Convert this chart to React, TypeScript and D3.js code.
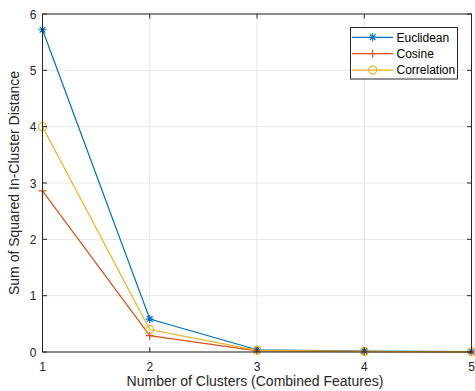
import React, { useEffect, useRef } from "react";
import * as d3 from "d3";

const clusters = [1, 2, 3, 4, 5];
const euclidean = [5.72, 0.585, 0.04, 0.015, 0.005];
const cosine = [2.86, 0.29, 0.02, 0.008, 0.003];
const correlation = [4.0, 0.4, 0.03, 0.01, 0.004];
const seriesNames = ["Euclidean", "Cosine", "Correlation"];
const seriesColors = ["#0072BD", "#D95319", "#EDB120"];
const seriesMarkers = ["star", "plus", "circle"];
const yTicks = [0, 1, 2, 3, 4, 5, 6];

const W = 475;
const H = 391;

const App = () => {
  const ref = useRef<SVGSVGElement>(null);

  useEffect(() => {
    const svg = d3.select(ref.current);
    svg.selectAll("*").remove();

    const left = 42.5, right = 471.5, top = 14, bottom = 352;
    const x = d3.scaleLinear().domain([1, 5]).range([left, right]);
    const y = d3.scaleLinear().domain([0, 6]).range([bottom, top]);
    const font = "'Liberation Sans', Arial, Helvetica, sans-serif";
    const axisCol = "#262626";

    svg.append("rect").attr("x", left).attr("y", top)
      .attr("width", right - left).attr("height", bottom - top).attr("fill", "#fff");

    // grid
    const grid = svg.append("g").attr("stroke", "#e6e6e6").attr("stroke-width", 1);
    clusters.forEach(c => {
      grid.append("line").attr("x1", x(c)).attr("x2", x(c)).attr("y1", top).attr("y2", bottom);
    });
    yTicks.forEach(t => {
      grid.append("line").attr("x1", left).attr("x2", right).attr("y1", y(t)).attr("y2", y(t));
    });

    // series
    const data = [euclidean, cosine, correlation];
    data.forEach((vals, i) => {
      const pts: [number, number][] = vals.map((v, j) => [x(clusters[j]), y(v)]);
      svg.append("path")
        .attr("d", d3.line()(pts))
        .attr("fill", "none")
        .attr("stroke", seriesColors[i])
        .attr("stroke-width", 1.2);
    });

    const drawMarker = (g: any, kind: string, cx: number, cy: number, col: string) => {
      const s = 4;
      if (kind === "circle") {
        g.append("circle").attr("cx", cx).attr("cy", cy).attr("r", 4)
          .attr("fill", "none").attr("stroke", col).attr("stroke-width", 1.2);
      } else {
        const p = d3.path();
        p.moveTo(cx - s, cy); p.lineTo(cx + s, cy);
        p.moveTo(cx, cy - s); p.lineTo(cx, cy + s);
        if (kind === "star") {
          const d = s * 0.72;
          p.moveTo(cx - d, cy - d); p.lineTo(cx + d, cy + d);
          p.moveTo(cx - d, cy + d); p.lineTo(cx + d, cy - d);
        }
        g.append("path").attr("d", p.toString()).attr("stroke", col)
          .attr("stroke-width", 1.2).attr("fill", "none");
      }
    };

    data.forEach((vals, i) => {
      const g = svg.append("g");
      vals.forEach((v, j) => drawMarker(g, seriesMarkers[i], x(clusters[j]), y(v), seriesColors[i]));
    });

    // box & ticks
    const ax = svg.append("g").attr("stroke", axisCol).attr("stroke-width", 1).attr("fill", "none");
    ax.append("rect").attr("x", left).attr("y", top).attr("width", right - left).attr("height", bottom - top)
      .attr("stroke", axisCol);
    const tl = 4.5;
    clusters.forEach(c => {
      ax.append("line").attr("x1", x(c)).attr("x2", x(c)).attr("y1", bottom).attr("y2", bottom - tl);
      ax.append("line").attr("x1", x(c)).attr("x2", x(c)).attr("y1", top).attr("y2", top + tl);
    });
    yTicks.forEach(t => {
      ax.append("line").attr("x1", left).attr("x2", left + tl).attr("y1", y(t)).attr("y2", y(t));
      ax.append("line").attr("x1", right).attr("x2", right - tl).attr("y1", y(t)).attr("y2", y(t));
    });

    // tick labels
    const lbl = svg.append("g").attr("font-family", font).attr("font-size", 12).attr("fill", axisCol);
    clusters.forEach(c => {
      lbl.append("text").attr("x", x(c)).attr("y", bottom + 18.5).attr("text-anchor", "middle").text(c);
    });
    yTicks.forEach(t => {
      lbl.append("text").attr("x", left - 6).attr("y", y(t) + 4.5).attr("text-anchor", "end").text(t);
    });

    // axis titles
    svg.append("text").attr("x", (left + right) / 2 - 2).attr("y", 386)
      .attr("text-anchor", "middle").attr("font-family", font).attr("font-size", 14).attr("fill", axisCol)
      .text("Number of Clusters (Combined Features)");
    svg.append("text").attr("transform", `translate(19,${(top + bottom) / 2}) rotate(-90)`)
      .attr("text-anchor", "middle").attr("font-family", font).attr("font-size", 14).attr("fill", axisCol)
      .text("Sum of Squared In-Cluster Distance");

    // legend
    const lg = svg.append("g");
    lg.append("rect").attr("x", 350.5).attr("y", 27.5).attr("width", 107).attr("height", 51.5)
      .attr("fill", "#fff").attr("stroke", axisCol).attr("stroke-width", 1);
    seriesNames.forEach((name, i) => {
      const ry = 37.3 + i * 16.4;
      lg.append("line").attr("x1", 352).attr("x2", 393).attr("y1", ry).attr("y2", ry)
        .attr("stroke", seriesColors[i]).attr("stroke-width", 1.2);
      drawMarker(lg, seriesMarkers[i], 372.7, ry, seriesColors[i]);
      lg.append("text").attr("x", 396.5).attr("y", ry + 4.3).attr("font-family", font)
        .attr("font-size", 12).attr("fill", "#000").text(name);
    });
  }, []);

  return (
    <div>
      <svg ref={ref} width={W} height={H} style={{ position: "absolute", left: 0, top: 0, background: "#fff" }} />
    </div>
  );
};

export default App;
